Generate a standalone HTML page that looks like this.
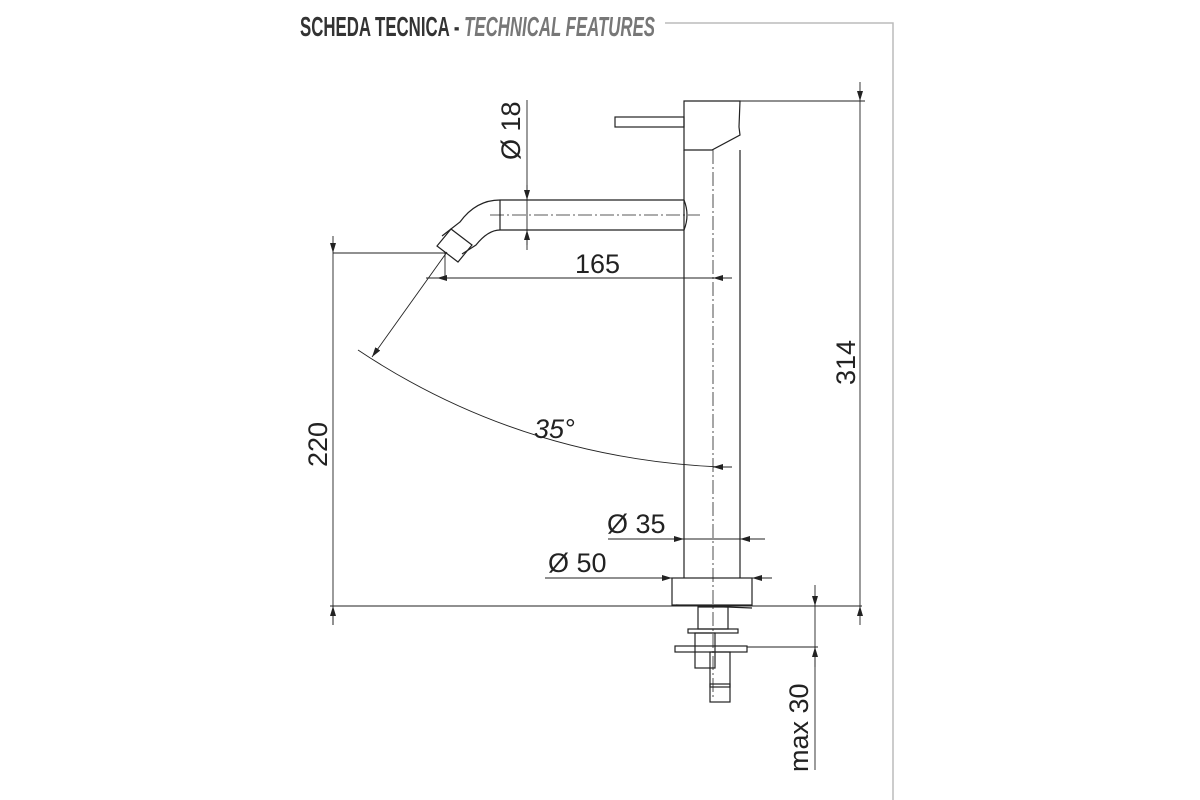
<!DOCTYPE html>
<html><head><style>
html,body{margin:0;padding:0;background:#fff;width:1200px;height:800px;overflow:hidden}
</style></head><body>
<svg width="1200" height="800" viewBox="0 0 1200 800" xmlns="http://www.w3.org/2000/svg">
<defs>
<marker id="a" viewBox="0 0 10 6" refX="10" refY="3" markerWidth="10" markerHeight="6" orient="auto-start-reverse" markerUnits="userSpaceOnUse"><path d="M0,0 L10,3 L0,6 z" fill="#222"/></marker>
</defs>
<text x="300" y="36" font-family="Liberation Sans, sans-serif" font-weight="bold" font-size="28" fill="#333" textLength="355" lengthAdjust="spacingAndGlyphs">SCHEDA TECNICA - <tspan fill="#777" font-style="italic">TECHNICAL FEATURES</tspan></text>
<polyline points="665,23 893,23 893,800" fill="none" stroke="#bbb" stroke-width="1.5"/>
<g fill="none" stroke="#222" stroke-width="1.2">
<line x1="684" y1="150" x2="684" y2="578"/>
<line x1="740" y1="150" x2="740" y2="578"/>
<path d="M684,101 L740,101 L739,127 L740,135 L712,150 L684,150 Z"/>
<line x1="713" y1="150" x2="713" y2="700" stroke-dasharray="14,3,2,3" stroke-width="0.8"/>
<rect x="615" y="117" width="69" height="10"/>
<path d="M684,200 L500,200 Q476,200 460,222 L442,236"/>
<path d="M684,230 L500,230 Q488,230 476,245 L462,254"/>
<path d="M684,200 Q690,215 684,230"/>
<line x1="500" y1="200" x2="500" y2="230"/>
<line x1="490" y1="215" x2="700" y2="215" stroke-dasharray="14,3,2,3" stroke-width="0.8"/>
<path d="M451,229 L437,246 L458,262 L472,245 Z"/>
<rect x="672" y="578" width="80" height="27"/>
<line x1="676" y1="605" x2="752" y2="608"/>
<rect x="698" y="607" width="30" height="22"/>
<rect x="688" y="629" width="50" height="4"/>
<rect x="695" y="633" width="20" height="35"/>
<rect x="675" y="646" width="72" height="6"/>
<rect x="710" y="652" width="20" height="35"/>
<rect x="710" y="684" width="20" height="18"/>
</g>
<g fill="none" stroke="#222" stroke-width="0.9">
<line x1="740" y1="101" x2="865" y2="101"/>
<line x1="860" y1="82" x2="860" y2="101" marker-end="url(#a)"/>
<line x1="860" y1="101" x2="860" y2="606"/>
<line x1="860" y1="625" x2="860" y2="606" marker-end="url(#a)"/>
<line x1="330" y1="606" x2="862" y2="606"/>
<line x1="333" y1="253" x2="445" y2="253"/>
<line x1="333" y1="236" x2="333" y2="253" marker-end="url(#a)"/>
<line x1="333" y1="253" x2="333" y2="625"/>
<line x1="333" y1="625" x2="333" y2="606" marker-end="url(#a)"/>
<line x1="527" y1="100" x2="527" y2="250"/>
<line x1="527" y1="185" x2="527" y2="200" marker-end="url(#a)"/>
<line x1="527" y1="245" x2="527" y2="230" marker-end="url(#a)"/>
<line x1="426" y1="278" x2="732" y2="278"/>
<line x1="445" y1="253" x2="445" y2="278"/>
<line x1="460" y1="278" x2="437" y2="278" marker-end="url(#a)"/>
<line x1="732" y1="278" x2="713" y2="278" marker-end="url(#a)"/>
<line x1="447" y1="252" x2="372" y2="357" marker-end="url(#a)"/>
<path d="M358,350 Q520,458 720,467"/>
<line x1="732" y1="467" x2="713" y2="467" marker-end="url(#a)"/>
<line x1="608" y1="539" x2="765" y2="539"/>
<line x1="665" y1="539" x2="684" y2="539" marker-end="url(#a)"/>
<line x1="765" y1="539" x2="740" y2="539" marker-end="url(#a)"/>
<line x1="545" y1="578" x2="772" y2="578"/>
<line x1="652" y1="578" x2="672" y2="578" marker-end="url(#a)"/>
<line x1="772" y1="578" x2="752" y2="578" marker-end="url(#a)"/>
<line x1="815" y1="585" x2="815" y2="606" marker-end="url(#a)"/>
<line x1="815" y1="606" x2="815" y2="770"/>
<line x1="747" y1="647" x2="818" y2="647"/>
<line x1="815" y1="667" x2="815" y2="647" marker-end="url(#a)"/>
</g>
<g font-family="Liberation Sans, DejaVu Sans, sans-serif" font-size="27" fill="#222">
<text x="575" y="273">165</text>
<text x="534" y="438" font-style="italic">35°</text>
<text x="607" y="533">Ø 35</text>
<text x="548" y="572">Ø 50</text>
<text transform="translate(520,160) rotate(-90)">Ø 18</text>
<text transform="translate(327,467) rotate(-90)">220</text>
<text transform="translate(855,385) rotate(-90)">314</text>
<text transform="translate(808,772) rotate(-90)">max 30</text>
</g>
</svg>
</body></html>
